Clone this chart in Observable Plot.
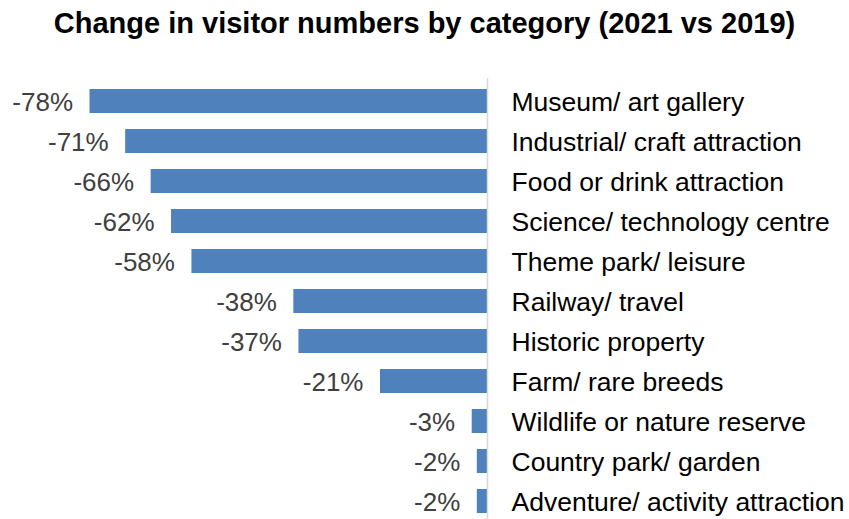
<!DOCTYPE html>
<html>
<head>
<meta charset="utf-8">
<script src="https://cdn.jsdelivr.net/npm/d3@7"></script>
<script src="https://cdn.jsdelivr.net/npm/@observablehq/plot@0.6"></script>
<style>
  html, body { margin: 0; padding: 0; background: #fff; overflow: hidden; }
  #title { font-family: "Liberation Sans", Arial, sans-serif; font-weight: bold; font-size: 29px;
           color: #000; text-align: center; height: 50px; line-height: 46px; margin: 0; width: 849px; overflow: hidden; white-space: nowrap; }
  #chart svg { display: block; }
</style>
</head>
<body>
<div id="title">Change in visitor numbers by category (2021 vs 2019)</div>
<div id="chart"></div>
<script>
const categories = [
  "Museum/ art gallery",
  "Industrial/ craft attraction",
  "Food or drink attraction",
  "Science/ technology centre",
  "Theme park/ leisure",
  "Railway/ travel",
  "Historic property",
  "Farm/ rare breeds",
  "Wildlife or nature reserve",
  "Country park/ garden",
  "Adventure/ activity attraction"
];
const changes = [-78, -71, -66, -62, -58, -38, -37, -21, -3, -2, -2];

const data = categories.map((c, i) => ({category: c, value: changes[i]}));

const chart = Plot.plot({
  width: 849,
  height: 474,
  marginLeft: 89.5,
  marginRight: 362,
  marginTop: 28,
  marginBottom: 0,
  style: {fontFamily: "'Liberation Sans', Arial, sans-serif", fontSize: "26px", background: "#fff"},
  x: {domain: [-78, 0], axis: null},
  y: {domain: categories, axis: null, paddingInner: 0.41, paddingOuter: 0.2},
  marks: [
    Plot.barX(data, {x: "value", y: "category", fill: "#4F81BD"}),
    Plot.ruleX([0], {stroke: "#d9d9d9", strokeWidth: 1.5}),
    Plot.text(data, {x: "value", y: "category", text: d => d.value + "%", textAnchor: "end", dx: -17, dy: 1, fill: "#404040", fontSize: 26}),
    Plot.text(data, {x: () => 0, y: "category", text: "category", textAnchor: "start", dx: 24, dy: 1, fill: "#000", fontSize: 26.5})
  ]
});
document.getElementById("chart").append(chart);
</script>
</body>
</html>
